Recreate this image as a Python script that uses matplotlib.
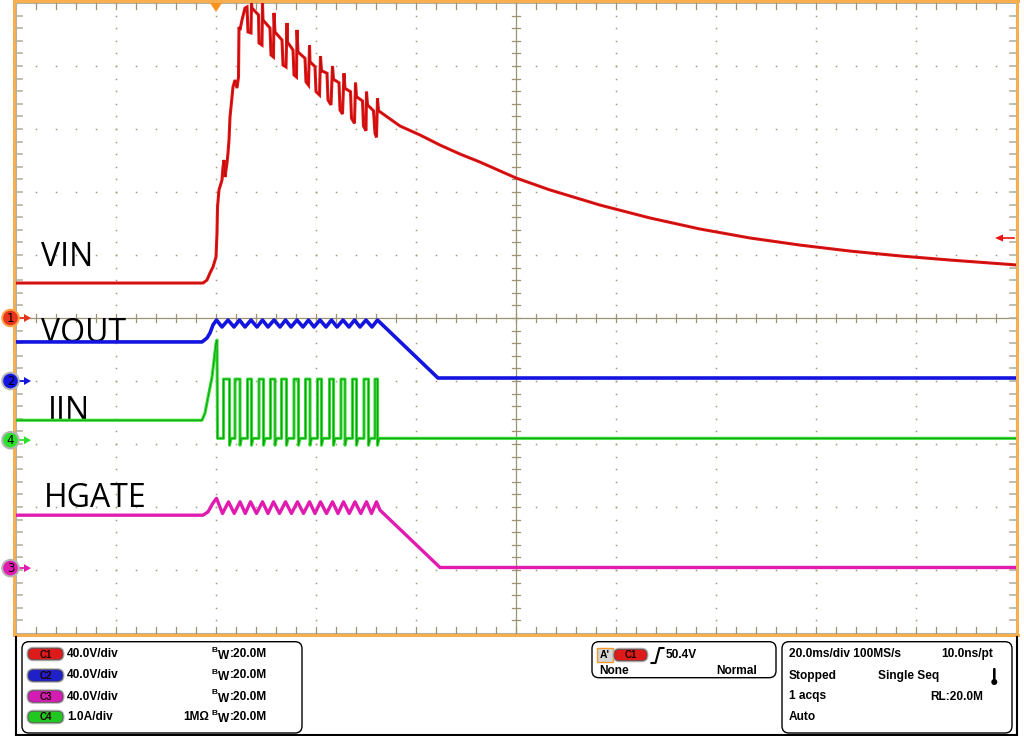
import matplotlib
matplotlib.use('Agg')
import matplotlib.pyplot as plt
from matplotlib.patches import Rectangle, FancyBboxPatch, Circle, Polygon

# ---------------- data (time in ms, trigger at 0) ----------------
VIN_T = [-40, -2.6, -1.8, -1.2, -0.6, 0.0, 0.2, 0.3, 0.6, 1.2, 1.4, 1.6, 1.8, 2.2, 2.4, 2.6, 2.8, 3.4, 3.8, 4.2, 4.5, 4.6, 4.8, 5.2, 5.8, 6.2,
         6.4, 7.0, 7.1, 7.2,
         8.5, 8.6, 9.2, 9.3, 9.4,
         10.8, 11.0, 11.5, 11.6, 11.8,
         13.2, 13.4, 14.0, 14.2, 14.3,
         15.4, 15.6, 16.1, 16.2, 16.4,
         17.8, 18.0, 18.5, 18.7, 18.8,
         19.8, 20.0, 20.7, 20.9, 21.1,
         22.2, 22.4, 23.0, 23.3, 23.5,
         24.6, 24.8, 25.3, 25.6, 25.8,
         26.9, 27.1, 27.7, 27.9, 28.1,
         29.3, 29.5, 30.0, 30.1, 30.3,
         31.5, 31.8, 32.1, 32.3, 32.5,
         36.8, 40.8, 44.8, 48.8, 52.8, 60.0, 66.8, 76.8, 86.8, 96.8, 106.8, 116.8, 126.8, 136.8, 146.8, 160.0]
VIN_V = [22.2, 22.2, 24.1, 28.6, 32.4, 38.7, 54.0, 70.5, 81.3, 87.6, 95.9, 100.3, 89.5, 98.4, 104.8, 113.0, 127.6, 146.7, 151.1, 146.0, 153.0, 184.8, 182.9, 189.2, 196.8, 197.5,
         181.6, 181.0, 200.0, 196.8,
         192.4, 174.6, 173.3, 200.0, 189.2,
         184.1, 167.0, 165.7, 193.7, 181.6,
         176.5, 160.6, 159.4, 187.3, 175.2,
         170.2, 154.3, 153.0, 182.9, 168.9,
         164.9, 150.0, 147.9, 173.3, 162.7,
         159.6, 143.7, 141.6, 166.3, 157.0,
         155.4, 138.4, 135.3, 160.0, 151.5,
         149.4, 132.1, 129.5, 155.4, 145.8,
         143.7, 126.8, 123.6, 149.4, 140.5,
         137.8, 121.9, 118.9, 143.7, 135.3,
         131.6, 117.3, 114.7, 139.5, 131.6,
         121.9, 116.2, 109.8, 104.1, 99.0, 88.9, 81.3, 71.7, 63.5, 56.5, 50.8, 46.3, 42.5, 39.4, 36.8, 33.7]

VOUT_T = [-40, -2.8, -1.8, -1.2, -0.6,
          0.1, 1.2, 2.4, 3.6, 4.7, 5.8, 7.0, 8.2, 9.3, 10.4, 11.6, 12.8, 13.9, 15.0, 16.2,
          17.4, 18.5, 19.6, 20.8, 22.0, 23.1, 24.2, 25.4, 26.6, 27.7, 28.8, 30.0, 31.2, 32.3,
          44.4, 160]
VOUT_V = [24.8, 24.8, 27.3, 30.5, 35.6,
          38.7, 34.3, 38.7, 34.3, 38.7, 34.3, 38.7, 34.3, 38.7, 34.3, 38.7, 34.3, 38.7, 34.3, 38.7,
          34.3, 38.7, 34.3, 38.7, 34.3, 38.7, 34.3, 38.7, 34.3, 38.7, 34.3, 38.7, 34.3, 38.7,
          1.9, 1.9]

IIN_T0 = [-40, -2.8, -2.2, -1.6, -0.8, -0.4, 0.0, 0.2, 0.3]
IIN_A0 = [0.317, 0.317, 0.43, 0.68, 1.00, 1.27, 1.54, 1.59, 0.03]
IIN_RISE = [1.5, 3.8, 6.3, 8.6, 10.9, 13.1, 15.6, 17.9, 20.3, 22.7, 25.0, 27.3, 29.6, 31.8]
IIN_FALL = [2.7, 4.8, 7.1, 9.5, 11.8, 14.1, 16.5, 18.8, 21.1, 23.5, 25.8, 28.1, 30.5, 32.3]
IIN_LOW, IIN_HIGH, IIN_UNDER = 0.03, 0.97, -0.08

HG_T = [-40, -2.6, -1.6, -0.6,
        0.1, 1.3, 2.5, 3.65, 4.8, 5.85, 6.9, 8.1, 9.3, 10.4, 11.5, 12.7, 13.9, 15.1, 16.3,
        17.5, 18.7, 19.8, 20.9, 22.1, 23.3, 24.4, 25.5, 26.65, 27.8, 28.95, 30.1, 31.1, 32.1,
        32.8, 44.8, 160]
HG_V = [33.6, 33.6, 35.7, 41.3,
        44.3, 34.7, 42.1, 34.7, 42.1, 34.7, 42.1, 34.7, 42.1, 34.7, 42.1, 34.7, 42.1, 34.7, 42.1,
        34.7, 42.1, 34.7, 42.1, 34.7, 42.1, 34.7, 42.1, 34.7, 42.1, 34.7, 42.1, 34.7, 42.1,
        36.8, 0.4, 0.4]

# channel scale (units/div) and ground-marker offset (div)
CH_SCALE = {'1': 40.0, '2': 40.0, '3': 40.0, '4': 1.0}
CH_OFFSET = {'1': 0.0, '2': -1.0, '3': -3.97, '4': -1.94}
CH_COLOR = {'1': '#E41414', '2': '#1414E0', '3': '#E21BB0', '4': '#2EE02E'}
LABELS = ['VIN', 'VOUT', 'IIN', 'HGATE']

ROW_SCALE = ['40.0V/div', '40.0V/div', '40.0V/div', '1.0A/div']
ROW_CH = ['1', '2', '3', '4']

# ---------------- figure ----------------
W, H = 1024, 736
fig = plt.figure(figsize=(W / 100, H / 100), dpi=100)
bg = fig.add_axes([0, 0, 1, 1])
bg.set_xlim(0, W); bg.set_ylim(H, 0); bg.axis('off')

X0, X1, Y0, Y1 = 16, 1016, 3, 633
DX, DY = 100.0, 63.0
YC = 318
ax = fig.add_axes([X0 / W, 1 - Y1 / H, (X1 - X0) / W, (Y1 - Y0) / H])
ax.set_xlim(-40, 160); ax.set_ylim(-5, 5); ax.axis('off'); ax.patch.set_alpha(0)

gcol = '#A39A7E'
# dotted graticule
for k in range(1, 10):
    if k == 5:
        continue
    x = X0 + k * DX
    ys = [Y0 + j * DY / 5 for j in range(1, 50)]
    bg.plot([x] * len(ys), ys, ls='none', marker='s', ms=1.1, mew=0, color=gcol)
    y = Y0 + k * DY
    xs = [X0 + j * 20 for j in range(1, 50)]
    bg.plot(xs, [y] * len(xs), ls='none', marker='s', ms=1.1, mew=0, color=gcol)
# center cross
ccol = '#9C9274'
bg.plot([516, 516], [Y0, Y1], color=ccol, lw=0.9)
bg.plot([X0, X1], [YC, YC], color=ccol, lw=0.9)
for j in range(1, 50):
    x = X0 + j * 20
    bg.plot([x, x], [YC - 4, YC + 4], color=ccol, lw=0.9)
    bg.plot([x, x], [Y0, Y0 + 6], color=ccol, lw=0.9)
    bg.plot([x, x], [Y1 - 6, Y1], color=ccol, lw=0.9)
    y = Y0 + j * DY / 5
    bg.plot([512, 520], [y, y], color=ccol, lw=0.9)
    bg.plot([X0, X0 + 6], [y, y], color='#B5B0A0', lw=1.2)
    bg.plot([X1 - 6, X1], [y, y], color='#B5B0A0', lw=1.2)
bg.add_patch(Rectangle((X0, Y0), X1 - X0, Y1 - Y0, fill=False, ec='#B8B0A0', lw=0.8))

# orange frame
org = '#F7AE4E'
bg.add_patch(Rectangle((12.5, 0), 3.5, 637, fc=org, ec='none'))
bg.add_patch(Rectangle((12.5, 0), 1007, 2.8, fc=org, ec='none'))
bg.add_patch(Rectangle((1016, 0), 3.2, 637, fc=org, ec='none'))
bg.add_patch(Rectangle((12.5, 633.5), 1007, 3.2, fc=org, ec='none'))

# trigger markers
bg.add_patch(Polygon([[210, 3], [222, 3], [216, 12]], closed=True, fc='#F7941D', ec='none', zorder=5))
bg.plot([999, 1014], [238, 238], color='#F01010', lw=1.2, zorder=5)
bg.add_patch(Polygon([[995, 238], [1003, 234.5], [1003, 241.5]], closed=True, fc='#F01010', ec='none', zorder=5))

# ---------------- traces ----------------
def ydiv(vals, ch):
    return [CH_OFFSET[ch] + v / CH_SCALE[ch] for v in vals]

ax.plot(VIN_T, ydiv(VIN_V, '1'), color=CH_COLOR['1'], lw=2.2, solid_joinstyle='miter')
ax.plot(VIN_T, ydiv(VIN_V, '1'), color='#8A0A0A', lw=0.5, alpha=0.6)
ax.plot(VOUT_T, ydiv(VOUT_V, '2'), color=CH_COLOR['2'], lw=2.6)

it, ia = list(IIN_T0), list(IIN_A0)
for r, f in zip(IIN_RISE, IIN_FALL):
    it += [r, r, f, f, f + 0.3]
    ia += [IIN_LOW, IIN_HIGH, IIN_HIGH, IIN_UNDER, IIN_LOW]
it += [160]; ia += [IIN_LOW]
ax.plot(it, ydiv(ia, '4'), color=CH_COLOR['4'], lw=2.2)
ax.plot(it, ydiv(ia, '4'), color='#137A13', lw=0.6, alpha=0.8)
ax.plot(HG_T, ydiv(HG_V, '3'), color=CH_COLOR['3'], lw=2.4)

# labels
lab_font = 'Open Sans'
lab_pos = [(41, 266), (41, 342), (48, 419.5), (44, 507)]
for t, (x, y) in zip(LABELS, lab_pos):
    bg.text(x, y, t, fontsize=23, family=lab_font, color='black', va='baseline', ha='left', zorder=6)

# channel ground markers on left
for ch in ['1', '2', '4', '3']:
    py = YC - CH_OFFSET[ch] * DY
    ring = '#F9A24A' if ch == '1' else '#B4B4B4'
    col = '#E8341C' if ch == '1' else CH_COLOR[ch]
    bg.plot([18, 26], [py, py], color=col, lw=1.3, zorder=7)
    bg.add_patch(Polygon([[31, py], [24, py - 4], [24, py + 4]], closed=True, fc=col, ec='none', zorder=7))
    bg.add_patch(Circle((10.5, py), 9.3, fc=ring, ec='none', zorder=8))
    bg.add_patch(Circle((10.5, py), 7.3, fc=col, ec='none', zorder=9))
    bg.text(10.5, py + 0.5, ch, fontsize=8.5, family='DejaVu Sans', ha='center', va='center', color='black', zorder=10)

# ---------------- bottom panel ----------------
bg.plot([15.5, 15.5], [637, 736], color='black', lw=1.5)
bg.plot([1016.5, 1016.5], [637, 736], color='black', lw=1.5)
bg.plot([15.5, 1016.5], [735, 735], color='black', lw=1.5)

def rbox(x, y, w, h):
    bg.add_patch(FancyBboxPatch((x, y), w, h, boxstyle='round,pad=0,rounding_size=7', fc='white', ec='black', lw=1.0))

rbox(22, 641.7, 280, 91.3)
rbox(592, 641.7, 184, 36)
rbox(782, 641.7, 230, 91.3)

tf = dict(fontsize=8.6, family='Liberation Sans', weight='bold', color='black', va='center')

def pill(x, yc, color, label, w=35, h=11.5):
    bg.add_patch(FancyBboxPatch((x - 1.5, yc - h / 2 - 1.5), w + 3, h + 3, boxstyle='round,pad=0,rounding_size=7',
                                fc='#B0B0B0', ec='none'))
    bg.add_patch(FancyBboxPatch((x, yc - h / 2), w, h, boxstyle='round,pad=0,rounding_size=5.5',
                                fc=color, ec='#505050', lw=0.5))
    bg.text(x + w / 2, yc + 0.5, label, fontsize=7, family='Liberation Sans', weight='bold', color='#200000',
            ha='center', va='center')

row_y = [654, 675.5, 696.5, 717]
pill_col = {'1': '#DD1B1B', '2': '#2020C8', '3': '#D21CB4', '4': '#22C822'}
for ch, sc, yc in zip(ROW_CH, ROW_SCALE, row_y):
    pill(28, yc, pill_col[ch], 'C' + ch)
    bg.text(67, yc, sc, **tf)
    bg.text(211.8, yc - 3.5, 'B', fontsize=6.0, family='Liberation Sans', weight='bold', va='center')
    bg.text(217.5, yc + 2, 'W', **tf)
    bg.text(229.5, yc, ':20.0M', **tf)
bg.text(183, row_y[3], '1M\u03a9', **tf)

# trigger box
bg.add_patch(Rectangle((597, 648), 15.5, 14, fc='#D5D5D5', ec='#F29A2E', lw=1.0))
bg.text(604.7, 655, "A'", fontsize=7.5, family='Liberation Sans', weight='bold', ha='center', va='center')
pill(614, 655, '#DD1B1B', 'C1', w=33)
bg.plot([651.5, 655.5, 659.5, 663.5], [663, 663, 648, 648], color='black', lw=1.5)
bg.text(666, 655, '50.4V', **tf)
bg.text(599, 671.5, 'None', **tf)
bg.text(757, 671.5, 'Normal', ha='right', **tf)

# horizontal box
bg.text(789, 654, '20.0ms/div 100MS/s', **tf)
bg.text(993, 654, '10.0ns/pt', ha='right', **tf)
bg.text(789, 675.5, 'Stopped', **tf)
bg.text(878, 675.5, 'Single Seq', **tf)
bg.text(789, 696.5, '1 acqs', **tf)
bg.text(983, 696.5, 'RL:20.0M', ha='right', **tf)
bg.text(789, 717, 'Auto', **tf)
# thermometer icon
bg.add_patch(FancyBboxPatch((993, 668), 2.6, 13, boxstyle='round,pad=0,rounding_size=1.2', fc='black', ec='none'))
bg.add_patch(Circle((994.3, 682), 3.0, fc='black', ec='none'))

fig.savefig('out.png', dpi=100)
